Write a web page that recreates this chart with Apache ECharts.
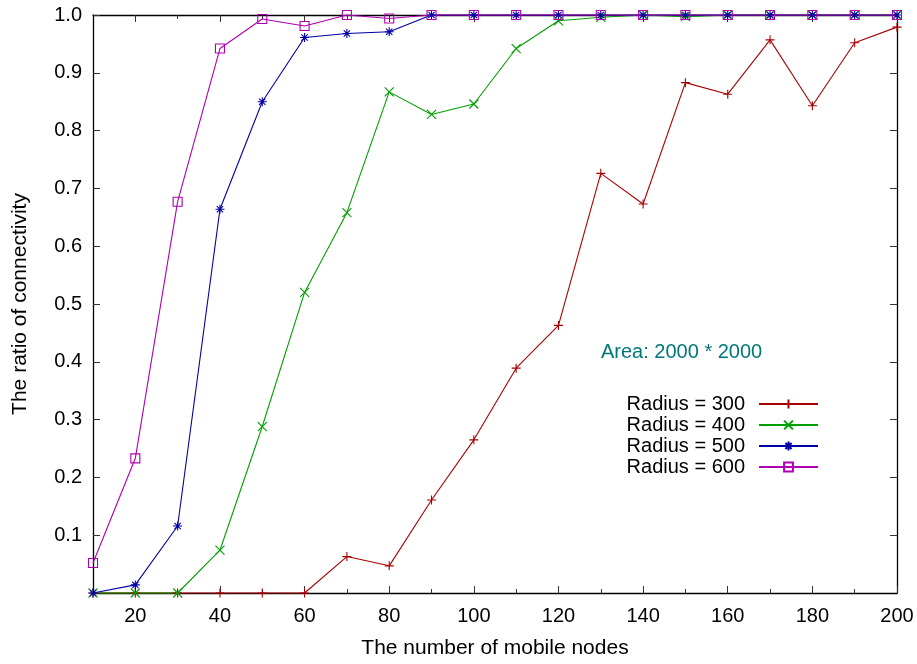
<!DOCTYPE html>
<html>
<head>
<meta charset="utf-8">
<script src="https://cdn.jsdelivr.net/npm/echarts@6/dist/echarts.min.js"></script>
<style>html,body{margin:0;padding:0;background:#fff}#c{width:917px;height:664px}</style>
</head>
<body>
<div id="c"></div>
<script>
var nodes = [10,20,30,40,50,60,70,80,90,100,110,120,130,140,150,160,170,180,190,200];
var r300 = [0,0,0,0,0,0,0.063,0.047,0.161,0.265,0.389,0.463,0.726,0.673,0.883,0.863,0.957,0.843,0.952,0.979];
var r400 = [0,0,0,0.074,0.288,0.520,0.658,0.867,0.828,0.846,0.942,0.990,0.996,1,0.997,1,1,1,1,1];
var r500 = [0,0.014,0.116,0.664,0.850,0.961,0.968,0.971,1,1,1,1,1,1,1,1,1,1,1,1];
var r600 = [0.052,0.233,0.677,0.942,0.993,0.981,1,0.994,1,1,1,1,1,1,1,1,1,1,1,1];
var seriesNames = ['Radius = 300','Radius = 400','Radius = 500','Radius = 600'];
var xMajorTicks = [20,40,60,80,100,120,140,160,180,200];
var xMinorTicks = [30,50,70,90,110,130,150,170,190];
var yTicks = [0.1,0.2,0.3,0.4,0.5,0.6,0.7,0.8,0.9,1.0];
var annotation = 'Area: 2000 * 2000';

var colors = ['#a80000','#00a000','#0000a8','#b000b0'];
var symbols = [
  'path://M5,0L5,10M0,5L10,5',
  'path://M0,0L10,10M10,0L0,10',
  'path://M5,0L5,10M0,5L10,5M1.5,1.5L8.5,8.5M8.5,1.5L1.5,8.5',
  'path://M0,0L10,0L10,10L0,10Z'
];
var allData = [r300,r400,r500,r600];
var FONT = 'Liberation Sans, Arial, sans-serif';

function pairs(ys){ return nodes.map(function(x,i){ return [x, ys[i]]; }); }

var series = allData.map(function(ys,i){
  return {
    name: seriesNames[i], type: 'line', data: pairs(ys),
    xAxisIndex: 0, yAxisIndex: 0,
    clip: false,
    symbol: symbols[i], symbolSize: 9, showAllSymbol: true,
    color: colors[i],
    lineStyle: {color: colors[i], width: 1.1},
    itemStyle: {color: 'rgba(0,0,0,0)', borderColor: colors[i], borderWidth: 1.1},
    emphasis: {disabled: true},
    animation: false
  };
});

var baseX = {type:'value', min:10, max:200, interval:10, splitLine:{show:false}};
function xAx(pos, ticks, len, showLine, showLabel){
  return Object.assign({}, baseX, {
    position: pos,
    axisLine: {show: showLine, onZero:false, lineStyle:{color:'#000', width:1.3}},
    axisTick: {show:true, inside:true, length:len, customValues:ticks, lineStyle:{color:'#333', width:1}},
    axisLabel: showLabel ? {show:true, customValues:xMajorTicks, color:'#000', fontSize:20, fontFamily:FONT, margin:13} : {show:false}
  });
}

var option = {
  animation: false,
  grid: {left:93, right:20, top:15, bottom:71, containLabel:false},
  xAxis: [
    Object.assign(xAx('bottom', xMajorTicks, 7, true, true), {
      name:'The number of mobile nodes', nameLocation:'middle', nameGap:45,
      nameTextStyle:{color:'#000', fontSize:21, fontFamily:FONT}
    }),
    xAx('bottom', xMinorTicks, 4, false, false),
    xAx('top', xMajorTicks, 7, true, false),
    xAx('top', xMinorTicks, 4, false, false)
  ],
  yAxis: [
    {type:'value', min:0, max:1, interval:0.1, position:'left',
     name:'The ratio of connectivity', nameLocation:'middle', nameGap:62,
     nameTextStyle:{color:'#000', fontSize:21, fontFamily:FONT},
     axisLine:{show:true, lineStyle:{color:'#000', width:1.3}},
     axisTick:{show:true, inside:true, length:7, customValues:yTicks, lineStyle:{color:'#333', width:1}},
     axisLabel:{customValues:yTicks, color:'#000', fontSize:20, fontFamily:FONT, margin:11,
       formatter:function(v){ return v.toFixed(1); }},
     splitLine:{show:false}},
    {type:'value', min:0, max:1, interval:0.1, position:'right',
     axisLine:{show:true, lineStyle:{color:'#000', width:1.3}},
     axisTick:{show:true, inside:true, length:7, customValues:yTicks, lineStyle:{color:'#333', width:1}},
     axisLabel:{show:false}, splitLine:{show:false}}
  ],
  legend: {
    data: seriesNames, orient:'vertical', align:'right', right:93, top:389,
    itemWidth:59, itemHeight:11, itemGap:1, selectedMode:false,
    textStyle:{color:'#000', fontSize:20, fontFamily:FONT, padding:[0,9,0,0]}
  },
  graphic: [{
    type:'text', left:601, top:342,
    style:{text:annotation, fill:'#007878', font:'20px ' + FONT}
  }],
  series: series
};
var chart = echarts.init(document.getElementById('c'), null, {renderer:'canvas'});
chart.setOption(option);
</script>
</body>
</html>
